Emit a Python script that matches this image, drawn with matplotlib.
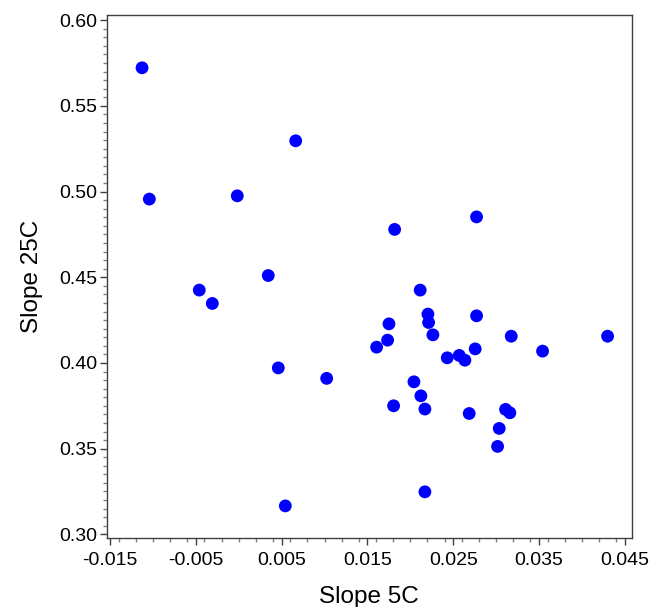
import matplotlib
matplotlib.use("Agg")
import matplotlib.pyplot as plt
from matplotlib.ticker import MultipleLocator, FormatStrFormatter

plt.rcParams['font.family'] = ['Liberation Sans', 'DejaVu Sans']
plt.rcParams['axes.unicode_minus'] = False

slope_5c = [-0.01127, -0.01042, 0.00664, -0.00017, -0.00460, -0.00308, 0.00344,
            0.00461, 0.01025, 0.00543,
            0.02772, 0.01817, 0.02115, 0.02205, 0.02772, 0.01751, 0.02213,
            0.01735, 0.02263, 0.01607, 0.03176, 0.04299, 0.03541, 0.02756,
            0.02430, 0.02570, 0.02636, 0.02042, 0.02123, 0.01805, 0.02170,
            0.02686, 0.03110, 0.03160, 0.03036, 0.03017, 0.02170]
slope_25c = [0.5722, 0.4956, 0.5296, 0.4975, 0.4425, 0.4347, 0.4510,
             0.3971, 0.3910, 0.3166,
             0.4852, 0.4779, 0.4425, 0.4285, 0.4275, 0.4228, 0.4236,
             0.4133, 0.4164, 0.4092, 0.4156, 0.4156, 0.4069, 0.4082,
             0.4030, 0.4044, 0.4016, 0.3890, 0.3808, 0.3750, 0.3731,
             0.3705, 0.3729, 0.3709, 0.3618, 0.3513, 0.3248]

fig = plt.figure(figsize=(6.57, 6.07), dpi=100)
ax = fig.add_axes([0.1629, 0.1132, 0.9615 - 0.1629, 0.9753 - 0.1132])

ax.scatter(slope_5c, slope_25c, s=85, color='#0000ff', edgecolors='none', zorder=3)

ax.set_xlim(-0.01535, 0.0458)
ax.set_ylim(0.2977, 0.603)

ax.xaxis.set_minor_locator(MultipleLocator(0.002))
ax.set_xticks([-0.015, -0.005, 0.005, 0.015, 0.025, 0.035, 0.045])
ax.xaxis.set_major_formatter(FormatStrFormatter('%.3f'))
ax.yaxis.set_major_locator(MultipleLocator(0.05))
ax.yaxis.set_minor_locator(MultipleLocator(0.005))
ax.yaxis.set_major_formatter(FormatStrFormatter('%.2f'))

for s in ax.spines.values():
    s.set_color('#404040')
    s.set_linewidth(1.0)

ax.tick_params(which='major', direction='out', length=5, width=1, color='#404040',
               labelsize=14, labelcolor='black')
ax.tick_params(which='minor', direction='out', length=3, width=1, color='#808080')
ax.tick_params(axis='x', which='major', pad=5)
ax.tick_params(axis='y', which='major', pad=2)
ax.tick_params(top=False, right=False, which='both')

ax.set_xlabel('Slope 5C', fontsize=17.5, labelpad=12)
ax.set_ylabel('Slope 25C', fontsize=17.5, labelpad=12)

fig.savefig('out.png', dpi=100)
